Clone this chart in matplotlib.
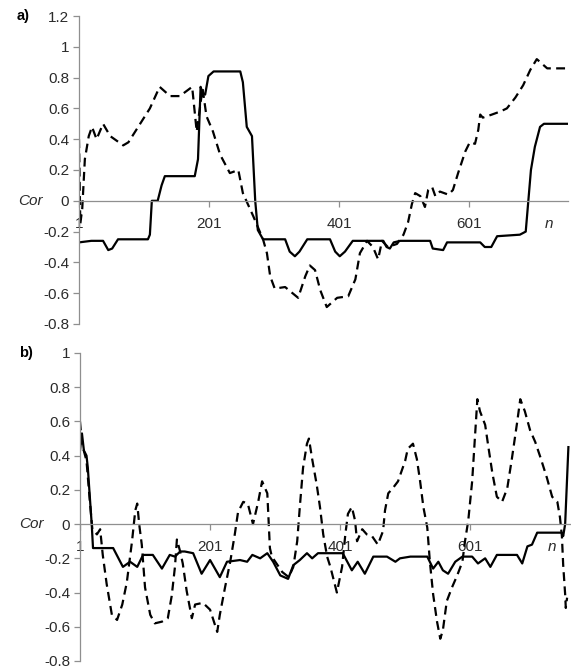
import matplotlib
matplotlib.use('Agg')
from matplotlib import pyplot as plt

plt.rcParams['font.family'] = ['Liberation Sans', 'DejaVu Sans']
plt.rcParams['axes.unicode_minus'] = False

# x ticks shared by both panels
xTicks = [1, 201, 401, 601]
xTickLabels = ['1', '201', '401', '601']

yTicksA = [-0.8, -0.6, -0.4, -0.2, 0, 0.2, 0.4, 0.6, 0.8, 1, 1.2]
yTickLabelsA = ['-0.8', '-0.6', '-0.4', '-0.2', '0', '0.2', '0.4', '0.6', '0.8', '1', '1.2']
yTicksB = [-0.8, -0.6, -0.4, -0.2, 0, 0.2, 0.4, 0.6, 0.8, 1]
yTickLabelsB = ['-0.8', '-0.6', '-0.4', '-0.2', '0', '0.2', '0.4', '0.6', '0.8', '1']

# panel a) solid line
nSolidA = [1, 20, 38, 42, 46, 52, 61, 107, 110, 113, 122, 128, 133, 179, 184, 188, 191, 195, 200, 208,
           249, 253, 259, 267, 272, 276, 284, 318, 325, 333, 340, 352, 387, 395, 402, 410, 422, 469, 474, 479,
           485, 495, 541, 545, 561, 567, 618, 625, 635, 644, 679, 688, 692, 696, 702, 710, 716, 753]
corSolidA = [-0.27, -0.26, -0.26, -0.29, -0.32, -0.31, -0.25, -0.25, -0.22, 0.0, 0.0, 0.1, 0.16, 0.16, 0.27, 0.74,
             0.7, 0.69, 0.81, 0.84, 0.84, 0.77, 0.48, 0.42, 0.0, -0.19, -0.25, -0.25, -0.33, -0.36, -0.33, -0.25,
             -0.25, -0.33, -0.36, -0.33, -0.26, -0.26, -0.30, -0.31, -0.27, -0.26, -0.26, -0.31, -0.32, -0.27,
             -0.27, -0.30, -0.30, -0.23, -0.22, -0.20, 0.0, 0.2, 0.35, 0.48, 0.5, 0.5]

# panel a) dashed line
nDashA = [1, 3, 6, 10, 16, 21, 28, 38, 49, 69, 77, 95, 110, 125, 141, 156, 175, 182, 191, 197,
          207, 218, 233, 246, 253, 269, 279, 284, 290, 295, 302, 318, 338, 349, 356, 364, 372, 382, 398, 415,
          426, 433, 444, 453, 461, 467, 476, 490, 500, 507, 513, 518, 526, 533, 538, 544, 549, 556, 569, 576,
          584, 595, 602, 610, 615, 618, 622, 636, 649, 659, 672, 684, 695, 705, 721, 736, 753]
corDashA = [0.4, -0.15, -0.05, 0.27, 0.42, 0.48, 0.4, 0.5, 0.42, 0.36, 0.38, 0.5, 0.6, 0.74, 0.68, 0.68, 0.74,
            0.45, 0.73, 0.55, 0.45, 0.3, 0.18, 0.2, 0.05, -0.1, -0.2, -0.25, -0.34, -0.49, -0.57, -0.56, -0.63,
            -0.49, -0.42, -0.45, -0.58, -0.69, -0.63, -0.62, -0.51, -0.34, -0.26, -0.3, -0.38, -0.26, -0.3,
            -0.28, -0.22, -0.14, -0.02, 0.05, 0.03, -0.04, 0.07, 0.09, 0.03, 0.06, 0.04, 0.07, 0.18, 0.32, 0.38,
            0.37, 0.46, 0.56, 0.54, 0.56, 0.58, 0.6, 0.67, 0.75, 0.85, 0.92, 0.86, 0.86, 0.86]

# panel b) solid line
nSolidB = [1, 4, 7, 11, 13, 19, 21, 52, 67, 78, 89, 98, 113, 127, 139, 147, 155, 162, 175, 188,
           201, 216, 227, 247, 258, 266, 278, 289, 298, 309, 321, 329, 339, 350, 358, 367, 381, 405, 419, 428,
           439, 452, 473, 486, 493, 509, 535, 544, 552, 559, 567, 578, 589, 604, 613, 624, 632, 642, 673, 681,
           689, 696, 704, 713, 742, 744, 747, 752]
corSolidB = [0.43, 0.53, 0.43, 0.4, 0.33, 0.0, -0.14, -0.14, -0.25, -0.22, -0.25, -0.18, -0.18, -0.26, -0.18,
             -0.19, -0.16, -0.16, -0.17, -0.29, -0.21, -0.31, -0.22, -0.21, -0.22, -0.18, -0.2, -0.17, -0.22,
             -0.3, -0.32, -0.24, -0.21, -0.17, -0.2, -0.17, -0.17, -0.17, -0.27, -0.22, -0.29, -0.19, -0.19,
             -0.22, -0.2, -0.19, -0.19, -0.26, -0.22, -0.27, -0.29, -0.22, -0.19, -0.19, -0.23, -0.2, -0.25,
             -0.18, -0.18, -0.23, -0.13, -0.12, -0.05, -0.05, -0.05, -0.07, 0.0, 0.45]

# panel b) dashed line
nDashB = [1, 4, 11, 16, 20, 27, 32, 36, 42, 50, 58, 66, 73, 81, 86, 89, 92, 96, 101, 109,
          116, 127, 136, 142, 147, 150, 155, 159, 165, 173, 178, 190, 201, 212, 216, 224, 232, 239, 244, 252,
          259, 267, 275, 281, 289, 293, 296, 312, 322, 329, 335, 339, 344, 350, 353, 358, 365, 370, 375, 381,
          386, 396, 404, 409, 413, 419, 424, 427, 435, 442, 450, 459, 467, 470, 475, 482, 490, 501, 505, 513,
          519, 524, 529, 535, 539, 544, 550, 555, 559, 565, 573, 581, 589, 593, 598, 604, 609, 612, 616, 624,
          629, 635, 642, 650, 658, 665, 673, 678, 685, 693, 701, 709, 719, 727, 735, 739, 742, 744, 747, 748, 750]
corDashB = [0.6, 0.47, 0.37, 0.14, -0.03, -0.06, -0.03, -0.18, -0.35, -0.53,
            -0.56, -0.47, -0.34, -0.1, 0.08, 0.12, 0.0, -0.12, -0.37, -0.53,
            -0.58, -0.57, -0.55, -0.42, -0.25, -0.09, -0.16, -0.23, -0.39, -0.55,
            -0.47, -0.46, -0.5, -0.63, -0.53, -0.37, -0.22, -0.06, 0.07, 0.13,
            0.12, 0.0, 0.13, 0.25, 0.18, -0.14, -0.19, -0.28, -0.31, -0.25,
            -0.1, 0.1, 0.33, 0.47, 0.5, 0.38, 0.23, 0.1, -0.06, -0.19,
            -0.25, -0.4, -0.25, -0.06, 0.06, 0.1, 0.02, -0.1, -0.03, -0.06,
            -0.07, -0.12, -0.04, 0.08, 0.18, 0.21, 0.25, 0.37, 0.44, 0.47,
            0.38, 0.25, 0.1, -0.02, -0.22, -0.41, -0.57, -0.67, -0.62, -0.45,
            -0.37, -0.3, -0.22, -0.1, 0.02, 0.25, 0.55, 0.73, 0.66, 0.58,
            0.45, 0.3, 0.16, 0.13, 0.21, 0.38, 0.59, 0.73, 0.66, 0.55,
            0.48, 0.39, 0.27, 0.16, 0.13, 0.04, -0.07, -0.24, -0.41, -0.49, -0.43]

AXIS_GRAY = '#8f8f8f'
TEXT_COLOR = '#2b2b2b'


def styleAxis(ax, yTicks, yLabels, yLims, xMax):
    ax.set_xlim(1, xMax)
    ax.set_ylim(*yLims)
    for side in ['top', 'right']:
        ax.spines[side].set_visible(False)
    ax.spines['bottom'].set_position(('data', 0))
    ax.spines['bottom'].set_color(AXIS_GRAY)
    ax.spines['left'].set_color(AXIS_GRAY)
    ax.spines['bottom'].set_linewidth(0.9)
    ax.spines['left'].set_linewidth(0.9)
    ax.set_yticks(yTicks)
    ax.set_yticklabels(yLabels)
    ax.set_xticks(xTicks)
    ax.set_xticklabels(xTickLabels)
    ax.tick_params(axis='y', direction='out', length=4, width=0.9, color=AXIS_GRAY,
                   pad=3, labelsize=11, labelcolor=TEXT_COLOR)
    ax.tick_params(axis='x', direction='out', length=4, width=0.9, color=AXIS_GRAY,
                   pad=7.5, labelsize=11, labelcolor=TEXT_COLOR)
    ax.patch.set_alpha(0)
    # axis name labels
    ax.annotate('Cor', xy=(0, 0), xycoords=ax.get_yaxis_transform(), xytext=(-26, 0),
                textcoords='offset points', ha='right', va='center', style='italic',
                fontsize=11, color=TEXT_COLOR)
    ax.annotate('n', xy=(1, 0), xycoords=ax.get_yaxis_transform(), xytext=(-14, -16.5),
                textcoords='offset points', ha='center', va='center', style='italic',
                fontsize=11, color=TEXT_COLOR)


fig = plt.figure(figsize=(5.71, 6.68), dpi=100)

axA = fig.add_axes([79 / 571, 1 - 324 / 668, 489 / 571, 308 / 668])
axA.plot(nSolidA, corSolidA, color='black', lw=1.6, solid_joinstyle='round')
axA.plot(nDashA, corDashA, color='black', lw=1.6, dashes=(4, 2.4), dash_joinstyle='round')
styleAxis(axA, yTicksA, yTickLabelsA, (-0.8, 1.2), 753)

axB = fig.add_axes([80 / 571, 7 / 668, 491 / 571, 308 / 668])
axB.plot(nSolidB, corSolidB, color='black', lw=1.6, solid_joinstyle='round')
axB.plot(nDashB, corDashB, color='black', lw=1.6, dashes=(4, 2.4), dash_joinstyle='round')
styleAxis(axB, yTicksB, yTickLabelsB, (-0.8, 1.0), 756)

fig.text(17 / 571, 1 - 16 / 668, 'a)', fontweight='bold', fontsize=10.5, va='center', ha='left')
fig.text(19 / 571, 1 - 353 / 668, 'b)', fontweight='bold', fontsize=10.5, va='center', ha='left')

fig.savefig('out.png', dpi=100)
